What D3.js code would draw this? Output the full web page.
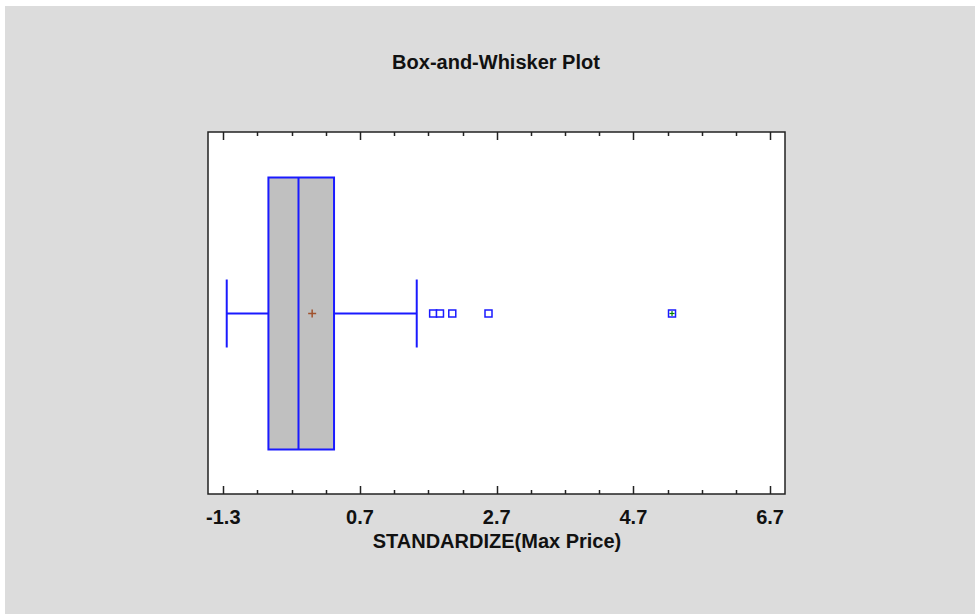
<!DOCTYPE html>
<html>
<head>
<meta charset="utf-8">
<script src="https://cdn.jsdelivr.net/npm/d3@7"></script>
<style>
  html, body { margin: 0; padding: 0; background: #fff; }
  svg text { font-family: "Liberation Sans", Arial, sans-serif; font-weight: bold; fill: #111; }
</style>
</head>
<body>
<svg id="chart" width="975" height="614"></svg>
<script>
// values (standardized max price)
var majorTicks = [-1.3, 0.7, 2.7, 4.7, 6.7];
var tickLabels = ['-1.3', '0.7', '2.7', '4.7', '6.7'];
var xDomain = [-1.524, 6.918];
var whiskerLow = -1.25;
var q1 = -0.64;
var median = -0.20;
var mean = 0.0;
var q3 = 0.32;
var whiskerHigh = 1.53;
var outliers = [1.77, 1.87, 2.05, 2.58];
var farOutliers = [5.265];

var svg = d3.select('#chart');

var frame = {left: 208, top: 132, right: 785, bottom: 494};

// gray panel
svg.append('rect')
    .attr('x', 5).attr('y', 6)
    .attr('width', 970).attr('height', 608)
    .attr('fill', '#dcdcdc');

svg.append('text')
    .attr('x', 496).attr('y', 69)
    .attr('text-anchor', 'middle')
    .style('font-size', '20px')
    .text('Box-and-Whisker Plot');

var x = d3.scaleLinear().domain(xDomain).range([frame.left, frame.right]);
var yMid = 313.5;
var boxHalf = 136;
var capHalf = 34;

svg.append('rect')
    .attr('x', frame.left).attr('y', frame.top)
    .attr('width', frame.right - frame.left)
    .attr('height', frame.bottom - frame.top)
    .attr('fill', '#fff')
    .attr('stroke', '#222')
    .attr('stroke-width', 1.5);

// ticks, inward on top and bottom
var minorTicks = d3.range(-1.3, 6.71, 0.5).filter(function(v) {
    return Math.abs(((v + 1.3) / 2) - Math.round((v + 1.3) / 2)) > 1e-6;
});

function tickLines(vals, len) {
    vals.forEach(function(v) {
        var px = Math.round(x(v)) + 0.5;
        svg.append('line')
            .attr('x1', px).attr('x2', px)
            .attr('y1', frame.bottom).attr('y2', frame.bottom - len)
            .attr('stroke', '#222').attr('stroke-width', 1.5);
        svg.append('line')
            .attr('x1', px).attr('x2', px)
            .attr('y1', frame.top).attr('y2', frame.top + len)
            .attr('stroke', '#222').attr('stroke-width', 1.5);
    });
}
tickLines(majorTicks, 8);
tickLines(minorTicks, 4);

svg.selectAll('text.tick')
    .data(majorTicks)
    .enter().append('text')
    .attr('class', 'tick')
    .attr('x', function(d) { return x(d); })
    .attr('y', 524)
    .attr('text-anchor', 'middle')
    .style('font-size', '20px')
    .text(function(d, i) { return tickLabels[i]; });

svg.append('text')
    .attr('x', 497).attr('y', 548)
    .attr('text-anchor', 'middle')
    .style('font-size', '20px')
    .text('STANDARDIZE(Max Price)');

var blue = '#1a1aff';

// whiskers
var g = svg.append('g').attr('stroke', blue).attr('stroke-width', 2).attr('fill', 'none');
g.append('line')
    .attr('x1', x(whiskerLow)).attr('x2', x(q1))
    .attr('y1', yMid).attr('y2', yMid);
g.append('line')
    .attr('x1', x(q3)).attr('x2', x(whiskerHigh))
    .attr('y1', yMid).attr('y2', yMid);
[whiskerLow, whiskerHigh].forEach(function(v) {
    g.append('line')
        .attr('x1', x(v)).attr('x2', x(v))
        .attr('y1', yMid - capHalf).attr('y2', yMid + capHalf);
});

// box
g.append('rect')
    .attr('x', x(q1)).attr('y', yMid - boxHalf)
    .attr('width', x(q3) - x(q1)).attr('height', boxHalf * 2)
    .attr('fill', '#c0c0c0');
g.append('line')
    .attr('x1', x(median)).attr('x2', x(median))
    .attr('y1', yMid - boxHalf).attr('y2', yMid + boxHalf);

// mean marker
var mg = svg.append('g').attr('stroke', '#a0522d').attr('stroke-width', 1.5);
mg.append('line').attr('x1', x(mean) - 4).attr('x2', x(mean) + 4).attr('y1', yMid).attr('y2', yMid);
mg.append('line').attr('x1', x(mean)).attr('x2', x(mean)).attr('y1', yMid - 4).attr('y2', yMid + 4);

// outside points
svg.selectAll('rect.out')
    .data(outliers.concat(farOutliers))
    .enter().append('rect')
    .attr('class', 'out')
    .attr('x', function(d) { return x(d) - 3.5; })
    .attr('y', yMid - 3.5)
    .attr('width', 7).attr('height', 7)
    .attr('fill', '#fff')
    .attr('stroke', blue).attr('stroke-width', 1.5);

farOutliers.forEach(function(v) {
    var fg = svg.append('g').attr('stroke', '#008000').attr('stroke-width', 1.2);
    fg.append('line').attr('x1', x(v) - 2.5).attr('x2', x(v) + 2.5).attr('y1', yMid).attr('y2', yMid);
    fg.append('line').attr('x1', x(v)).attr('x2', x(v)).attr('y1', yMid - 2.5).attr('y2', yMid + 2.5);
});
</script>
</body>
</html>
